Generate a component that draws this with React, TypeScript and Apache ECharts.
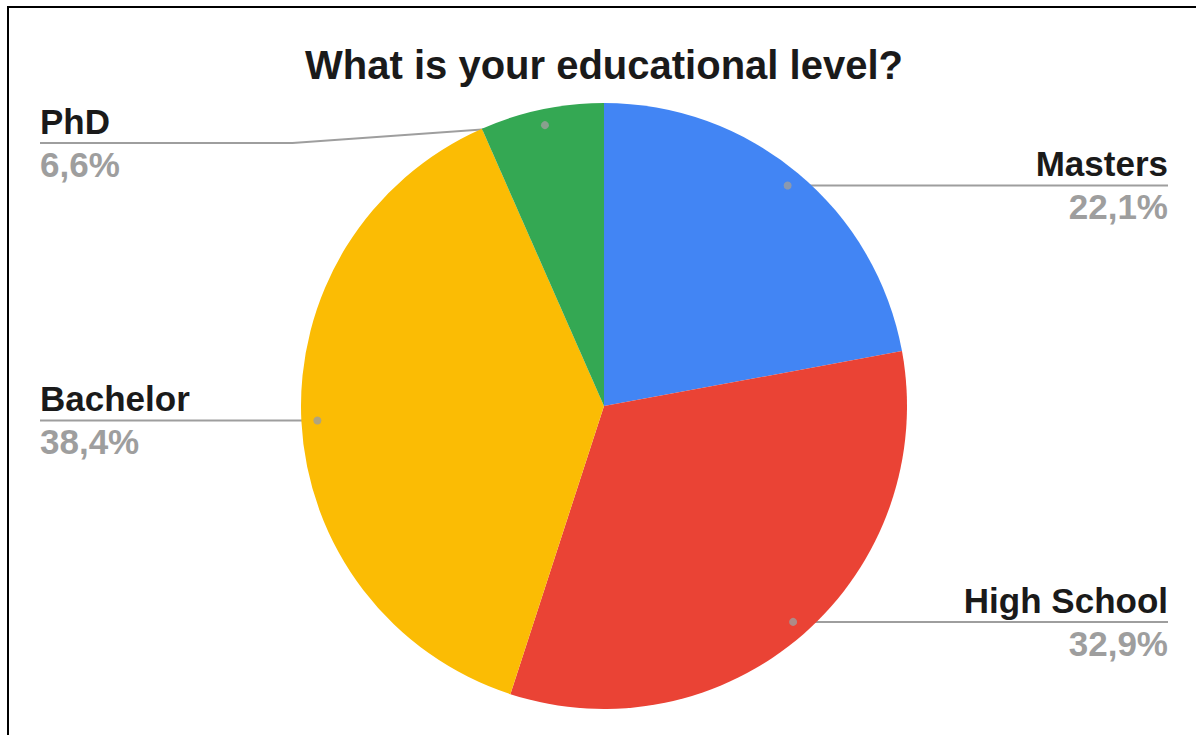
import React, { useEffect, useRef } from 'react';
import * as echarts from 'echarts';

const categories = ['Masters', 'High School', 'Bachelor', 'PhD'];
const shares = [22.1, 32.9, 38.4, 6.6];
const colors = ['#4285F4', '#EA4335', '#FBBC04', '#34A853'];
const chartTitle = 'What is your educational level?';

const CX = 592;
const CY = 406;
const R = 303;
const DOT_R = 287;
const LABEL_MIN_Y = 143;
const FONT = '"Liberation Sans", Arial, sans-serif';

export default function App() {
  const ref = useRef<HTMLDivElement>(null);
  useEffect(() => {
    const chart = echarts.init(ref.current!, null, { renderer: 'svg' });
    const total = shares.reduce((a, b) => a + b, 0);
    let acc = 0;
    const dots = shares.map((v) => {
      const mid = acc + v / 2;
      acc += v;
      return [DOT_R, (mid / total) * 100];
    });
    chart.setOption({
      animation: false,
      title: {
        text: chartTitle,
        left: 'center',
        top: 40,
        textStyle: { fontFamily: FONT, fontSize: 40, fontWeight: 'bold', color: '#1a1a1a' },
      },
      polar: { center: [CX, CY], radius: R },
      angleAxis: { type: 'value', min: 0, max: 100, startAngle: 90, clockwise: true, show: false },
      radiusAxis: { type: 'value', min: 0, max: R, show: false },
      series: [
        {
          type: 'pie',
          center: [CX, CY],
          radius: R,
          startAngle: 90,
          clockwise: true,
          silent: true,
          data: categories.map((n, i) => ({ name: n, value: shares[i], itemStyle: { color: colors[i] } })),
          label: {
            show: true,
            position: 'outside',
            alignTo: 'edge',
            edgeDistance: 28,
            fontFamily: FONT,
            formatter: (p: any) => `{name|${p.name}}\n{pct|${p.percent.toFixed(1).replace('.', ',')}%}`,
            rich: {
              name: { fontFamily: FONT, fontSize: 35, fontWeight: 'bold', color: '#1a1a1a', lineHeight: 43 },
              pct: { fontFamily: FONT, fontSize: 35, fontWeight: 'bold', color: '#9e9e9e', lineHeight: 43 },
            },
          },
          labelLine: { show: true, length: 0, length2: 0, lineStyle: { color: '#9e9e9e', width: 2 } },
          labelLayout: (p: any) => {
            const pts = p.labelLinePoints;
            if (!pts) return {};
            const [x0, y0] = pts[0];
            const k = DOT_R / R;
            const sx = CX + (x0 - CX) * k;
            const sy = CY + (y0 - CY) * k;
            const y = Math.max(sy, LABEL_MIN_Y);
            const rect = p.labelRect;
            const isLeft = rect.x + rect.width / 2 < CX;
            const endX = isLeft ? rect.x : rect.x + rect.width;
            const bendX = (sx + endX) / 2;
            return {
              y,
              verticalAlign: 'middle',
              labelLinePoints: [
                [sx, sy],
                [bendX, y],
                [endX, y],
              ],
            };
          },
          emphasis: { disabled: true },
        },
        {
          type: 'scatter',
          coordinateSystem: 'polar',
          data: dots,
          symbolSize: 8,
          itemStyle: { color: '#9e9e9e' },
          z: 5,
          silent: true,
        },
      ],
    });
    return () => chart.dispose();
  }, []);

  return (
    <div style={{ position: 'absolute', left: 0, top: 0, width: 1196, height: 735, overflow: 'hidden', background: '#fff' }}>
      <div
        style={{
          position: 'absolute',
          left: 7,
          top: 6,
          width: 2000,
          height: 2000,
          borderLeft: '2px solid #000',
          borderTop: '2px solid #000',
        }}
      />
      <div ref={ref} style={{ position: 'absolute', left: 12, top: 0, width: 1184, height: 735 }} />
    </div>
  );
}
